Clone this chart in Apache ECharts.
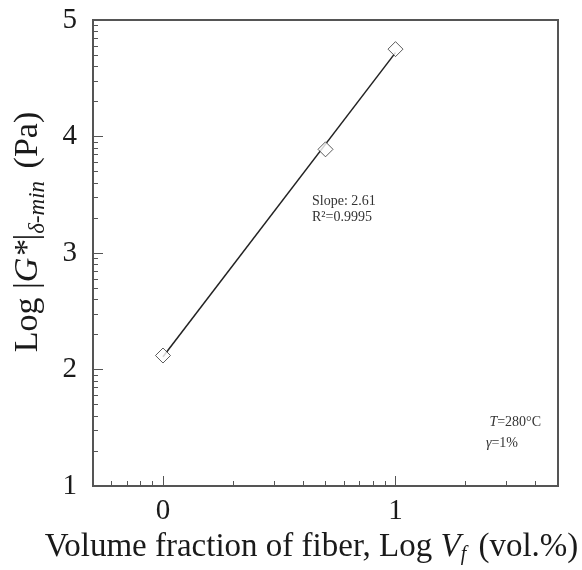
<!DOCTYPE html>
<html>
<head>
<meta charset="utf-8">
<script src="https://cdn.jsdelivr.net/npm/echarts@6/dist/echarts.min.js"></script>
<style>html,body{margin:0;padding:0;background:#fff;}#c{width:582px;height:570px;}</style>
</head>
<body>
<div id="c"></div>
<script>
// Data (log10 values)
var logVf = [0, 0.699, 1];
var logG = [2.12, 3.89, 4.75];
var fitX = [0, 1];
var fitY = [2.11, 4.72];
// Axis tick labels
var xMajorTicks = [0, 1];
var yMajorTicks = [1, 2, 3, 4, 5];
// Minor tick positions (log decade multiples)
var xMinorMultiples = [0.6, 0.7, 0.8, 0.9, 2, 3, 4, 5, 6, 7, 8, 9, 20, 30, 40];
var yMinorMultiples = [20, 30, 40, 50, 60, 70, 80, 90, 200, 300, 400, 500, 600, 700, 800, 900,
  2000, 3000, 4000, 5000, 6000, 7000, 8000, 9000, 20000, 30000, 40000, 50000, 60000, 70000, 80000, 90000];
var annot1 = ['Slope: 2.61', 'R²=0.9995'];

var xMinor = xMinorMultiples.map(function (v) { return Math.log10(v); });
var yMinor = yMinorMultiples.map(function (v) { return Math.log10(v); });

var FONT = '"Liberation Serif", "DejaVu Serif", serif';
var AX = '#555';
var TXT = '#1a1a1a';
var chart = echarts.init(document.getElementById('c'));
var xMin = Math.log10(0.5), xMax = Math.log10(50);

chart.setOption({
  animation: false,
  backgroundColor: '#fff',
  grid: { left: 93, top: 20, right: 24, bottom: 84, show: true, borderColor: AX, borderWidth: 2,
    backgroundColor: 'transparent', outerBoundsMode: 'none', containLabel: false },
  xAxis: [{
    type: 'value', min: xMin, max: xMax,
    axisLine: { show: true, onZero: false, lineStyle: { color: AX, width: 2 } },
    axisTick: { show: true, inside: true, length: 10, customValues: xMajorTicks, lineStyle: { color: AX, width: 1 } },
    axisLabel: { customValues: xMajorTicks, fontFamily: FONT, fontSize: 29, color: TXT, margin: 11 },
    splitLine: { show: false },
    name: 'Volume fraction of fiber, Log {iv|V}{sub|f} (vol.%)',
    nameLocation: 'middle', nameGap: 42,
    nameTextStyle: {
      fontFamily: FONT, fontSize: 33, color: TXT, padding: [0, 28, 0, 0],
      rich: {
        iv: { fontFamily: FONT, fontSize: 33, fontStyle: 'italic', color: TXT },
        sub: { fontFamily: FONT, fontSize: 20, fontStyle: 'italic', color: TXT, padding: [14, 4, 0, 0] }
      }
    }
  }, {
    type: 'value', min: xMin, max: xMax, position: 'bottom',
    axisLine: { show: false, onZero: false },
    axisTick: { show: true, inside: true, length: 5, customValues: xMinor, lineStyle: { color: AX, width: 1 } },
    axisLabel: { show: false },
    splitLine: { show: false }
  }],
  yAxis: [{
    type: 'value', min: 1, max: 5, interval: 1,
    axisLine: { show: true, onZero: false, lineStyle: { color: AX, width: 2 } },
    axisTick: { show: true, inside: true, length: 10, lineStyle: { color: AX, width: 1 } },
    axisLabel: { fontFamily: FONT, fontSize: 29, color: TXT, margin: 16 },
    splitLine: { show: false },
    name: 'Log |{ig|G*}|{sub|δ-min} (Pa)',
    nameLocation: 'middle', nameGap: 44, nameRotate: 90,
    nameTextStyle: {
      fontFamily: FONT, fontSize: 34, color: TXT, padding: [0, 0, 0, 42],
      rich: {
        ig: { fontFamily: FONT, fontSize: 34, fontStyle: 'italic', color: TXT },
        sub: { fontFamily: FONT, fontSize: 23, fontStyle: 'italic', color: TXT, padding: [18, 4, 0, 0] }
      }
    }
  }, {
    type: 'value', min: 1, max: 5, position: 'left',
    axisLine: { show: false, onZero: false },
    axisTick: { show: true, inside: true, length: 5, customValues: yMinor, lineStyle: { color: AX, width: 1 } },
    axisLabel: { show: false },
    splitLine: { show: false }
  }],
  series: [{
    type: 'line',
    data: fitX.map(function (x, i) { return [x, fitY[i]]; }),
    showSymbol: false, symbol: 'none',
    lineStyle: { color: '#222', width: 1.5 },
    z: 2
  }, {
    type: 'scatter',
    data: logVf.map(function (x, i) { return [x, logG[i]]; }),
    symbol: 'diamond', symbolSize: [15, 15],
    itemStyle: { color: '#fff', borderColor: '#333', borderWidth: 1 },
    z: 3
  }],
  graphic: [{
    type: 'text', x: 312, y: 193,
    style: { text: annot1[0] + '\n' + annot1[1], font: '14px ' + FONT, fill: '#333', lineHeight: 16 }
  }, {
    type: 'text', x: 541, y: 415,
    style: {
      text: '{it|T}=280°C', font: '14px ' + FONT, fill: '#333', align: 'right',
      rich: { it: { fontFamily: FONT, fontSize: 14, fontStyle: 'italic', fill: '#333' } }
    }
  }, {
    type: 'text', x: 518, y: 436,
    style: {
      text: '{it|γ}=1%', font: '14px ' + FONT, fill: '#333', align: 'right',
      rich: { it: { fontFamily: FONT, fontSize: 14, fontStyle: 'italic', fill: '#333' } }
    }
  }]
});
</script>
</body>
</html>
